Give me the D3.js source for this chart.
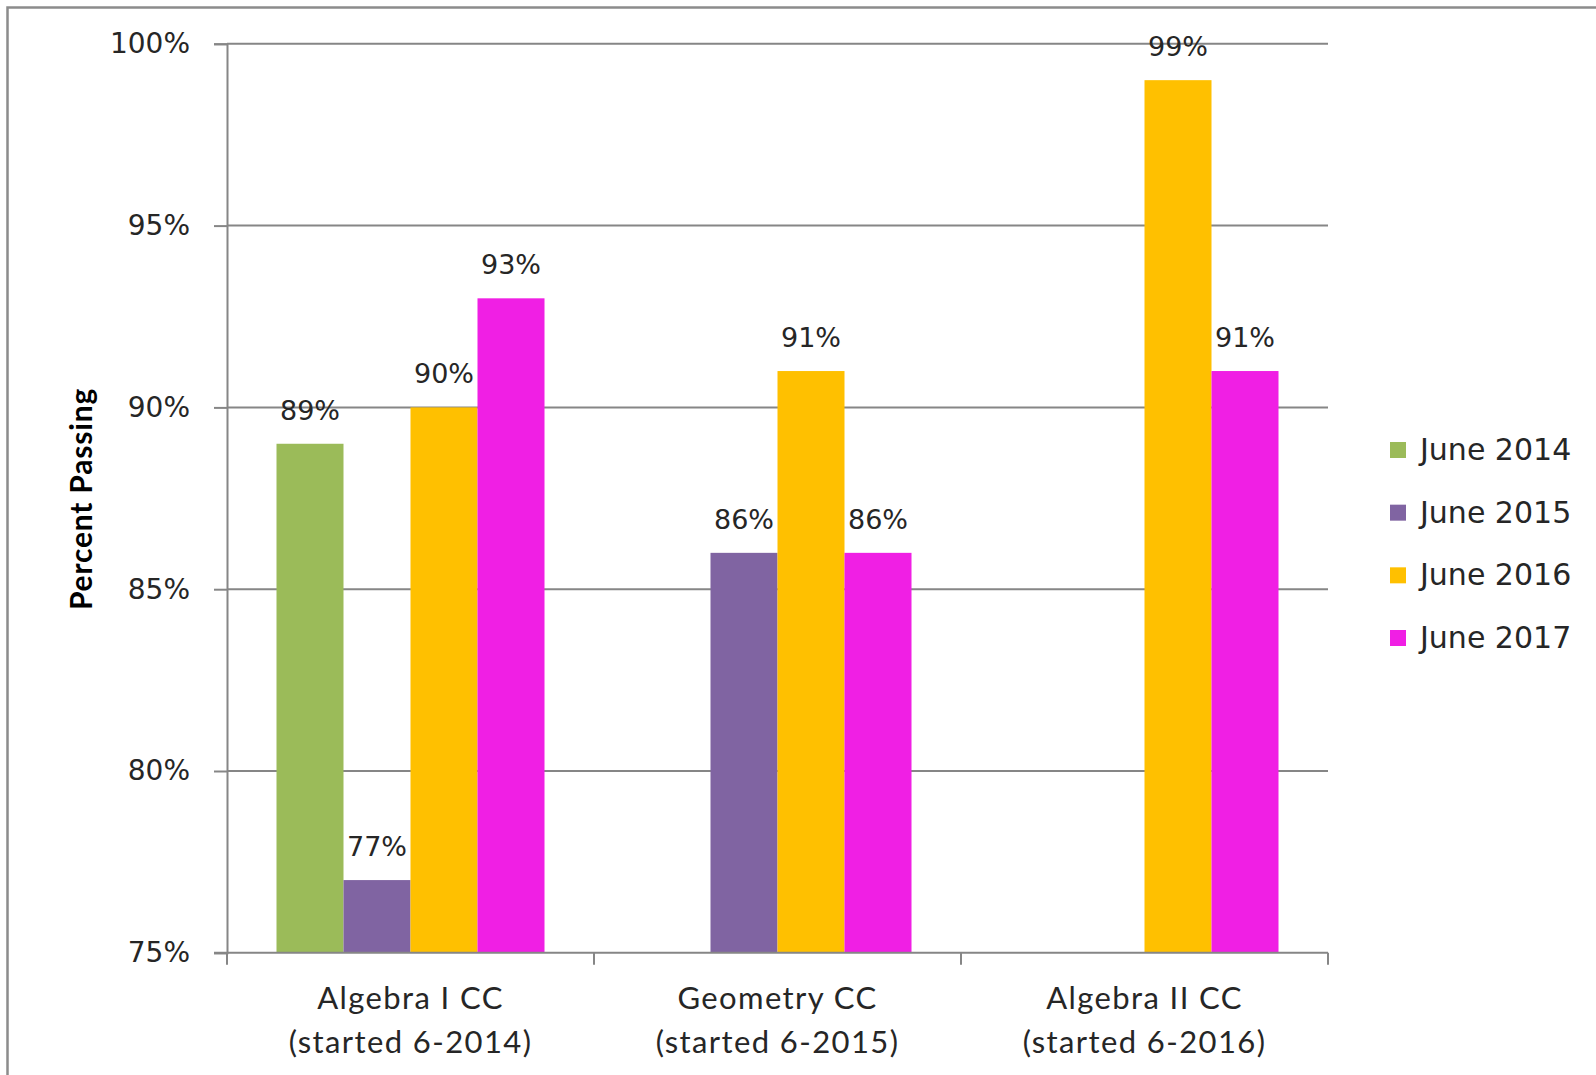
<!DOCTYPE html>
<html>
<head>
<meta charset="utf-8">
<script src="https://cdn.jsdelivr.net/npm/d3@7"></script>
<style>
  html, body { margin: 0; padding: 0; background: #fff; overflow: hidden; }
  svg { display: block; }
</style>
</head>
<body>
<svg id="chart" width="1596" height="1075"></svg>
<script>
// ---- data ----
const categories = ["Algebra I CC|(started 6-2014)", "Geometry CC|(started 6-2015)", "Algebra II CC|(started 6-2016)"];
const seriesNames = ["June 2014", "June 2015", "June 2016", "June 2017"];
const seriesColors = ["#9BBB59", "#8064A2", "#FFC000", "#F01FE4"];
const june2014 = [89, null, null];
const june2015 = [77, 86, null];
const june2016 = [90, 91, 99];
const june2017 = [93, 86, 91];
const yTicks = [75, 80, 85, 90, 95, 100];
const yTitle = "Percent Passing";

const seriesValues = [june2014, june2015, june2016, june2017];

(function () {
const svg = d3.select("#chart");

// outer frame (only left & top visible)
svg.append("rect")
  .attr("x", 7.5).attr("y", 7.5)
  .attr("width", 1700).attr("height", 1200)
  .attr("fill", "none").attr("stroke", "#8c8c8c").attr("stroke-width", 2.5);

const pLeft = 227, pRight = 1328, pTop = 43.8, pBottom = 952.8;

const y = d3.scaleLinear().domain([75, 100]).range([pBottom, pTop]);
const x0 = d3.scaleBand().domain(categories).range([pLeft, pRight]).padding(0);
const groupW = 268;
const x1 = d3.scaleBand().domain(seriesNames)
  .range([(x0.bandwidth() - groupW) / 2, (x0.bandwidth() + groupW) / 2]).padding(0);

const gridColor = "#868686";

const yAxis = d3.axisLeft(y).tickValues(yTicks).tickSize(13).tickFormat(d => d + "%").tickPadding(24);
const gy = svg.append("g").attr("transform", `translate(${pLeft},0)`).call(yAxis);
gy.select(".domain").attr("stroke", gridColor).attr("stroke-width", 2);
gy.selectAll(".tick line").attr("stroke", gridColor).attr("stroke-width", 2);
gy.selectAll(".tick text")
  .attr("font-family", "DejaVu Sans, Verdana, sans-serif")
  .attr("font-size", 28).attr("fill", "#262626");

svg.append("g").selectAll("line").data(yTicks.filter(t => t !== 75)).join("line")
  .attr("x1", pLeft).attr("x2", pRight)
  .attr("y1", d => y(d)).attr("y2", d => y(d))
  .attr("stroke", gridColor).attr("stroke-width", 2);

// bars
const barData = [];
categories.forEach((c, ci) => {
  seriesNames.forEach((s, si) => {
    const v = seriesValues[si][ci];
    if (v != null) barData.push({ c, s, v, color: seriesColors[si] });
  });
});

const gBars = svg.append("g");
gBars.selectAll("rect").data(barData).join("rect")
  .attr("x", d => x0(d.c) + x1(d.s))
  .attr("y", d => y(d.v))
  .attr("width", x1.bandwidth())
  .attr("height", d => y(75) - y(d.v))
  .attr("fill", d => d.color);

gBars.selectAll("text").data(barData).join("text")
  .attr("x", d => x0(d.c) + x1(d.s) + x1.bandwidth() / 2)
  .attr("y", d => y(d.v) - 24)
  .attr("text-anchor", "middle")
  .attr("font-family", "DejaVu Sans, Verdana, sans-serif")
  .attr("font-size", 27).attr("fill", "#262626")
  .text(d => d.v + "%");

// x axis
const gx = svg.append("g").attr("transform", `translate(0,${pBottom})`);
gx.append("line").attr("x1", pLeft - 13).attr("x2", pRight).attr("y1", 0).attr("y2", 0)
  .attr("stroke", gridColor).attr("stroke-width", 2);
const boundaries = categories.map(c => x0(c)).concat([x0(categories[categories.length - 1]) + x0.bandwidth()]);
gx.selectAll("line.tk").data(boundaries).join("line").attr("class", "tk")
  .attr("x1", d => d).attr("x2", d => d).attr("y1", 0).attr("y2", 12)
  .attr("stroke", gridColor).attr("stroke-width", 2);

gx.selectAll("text.cat").data(categories).join("text").attr("class", "cat")
  .attr("text-anchor", "middle")
  .attr("font-family", "Lato, Carlito, Calibri, sans-serif")
  .attr("font-size", 31).attr("letter-spacing", 1.4).attr("fill", "#262626")
  .each(function(d) {
    const parts = d.split("|");
    const t = d3.select(this);
    const cx = x0(d) + x0.bandwidth() / 2;
    t.append("tspan").attr("x", cx).attr("y", 56).text(parts[0]);
    t.append("tspan").attr("x", cx).attr("y", 100).text(parts[1]);
  });

// y title
svg.append("text")
  .attr("transform", `translate(92,499) rotate(-90)`)
  .attr("text-anchor", "middle")
  .attr("font-family", "Lato, Carlito, Calibri, sans-serif")
  .attr("font-weight", "bold")
  .attr("font-size", 30).attr("letter-spacing", 0.8).attr("fill", "#000")
  .text(yTitle);

// legend
const legend = svg.append("g");
const legY = d3.scalePoint().domain(seriesNames).range([450, 638]);
legend.selectAll("rect").data(seriesNames).join("rect")
  .attr("x", 1390).attr("y", d => legY(d) - 8)
  .attr("width", 16).attr("height", 16)
  .attr("fill", (d, i) => seriesColors[i]);
legend.selectAll("text").data(seriesNames).join("text")
  .attr("x", 1420).attr("y", d => legY(d) + 10)
  .attr("font-family", "DejaVu Sans, Verdana, sans-serif")
  .attr("font-size", 30).attr("fill", "#262626")
  .text(d => d);
})();
</script>
</body>
</html>
